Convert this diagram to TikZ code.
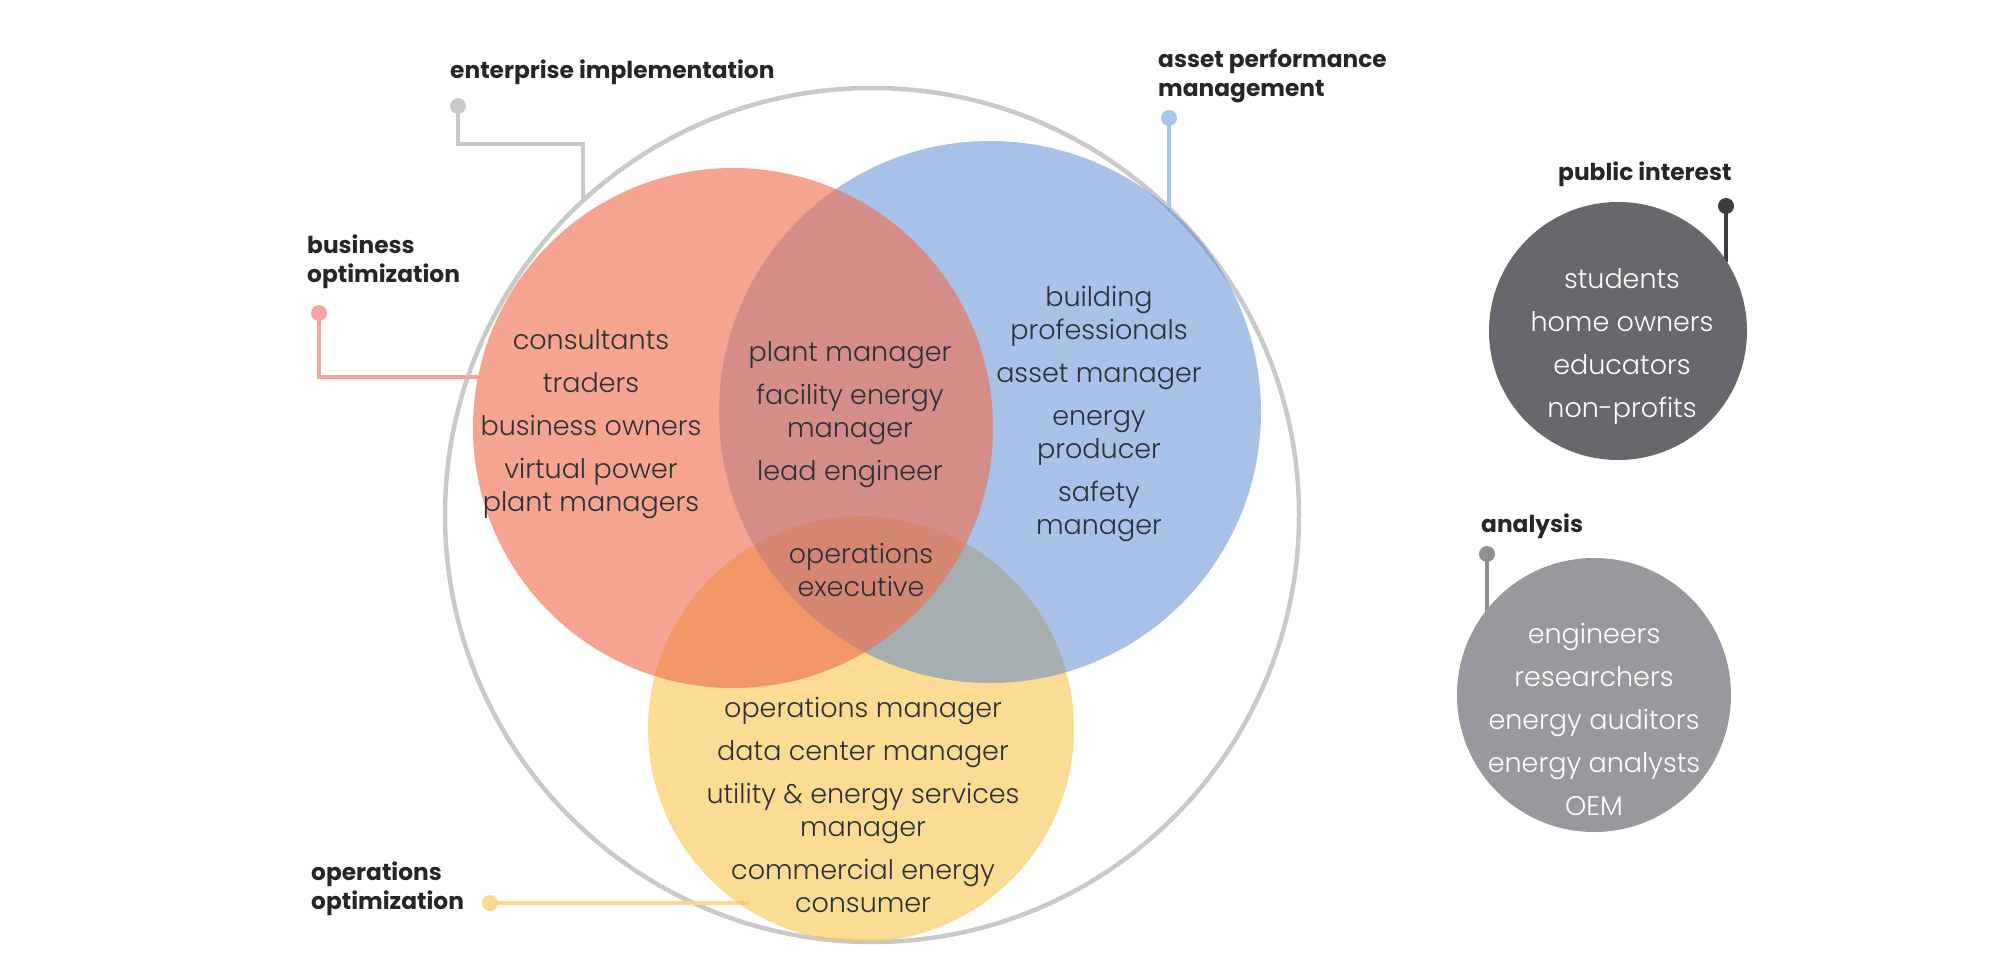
\documentclass[tikz,border=0pt]{standalone}
\usepackage{fontspec}
\IfFontExistsTF{Poppins Light}{\newfontfamily\bodyfont{Poppins Light}}{\newfontfamily\bodyfont{Poppins}}
\IfFontExistsTF{Poppins Bold}{\newfontfamily\labelfont{Poppins Bold}}{\newcommand\labelfont{\bodyfont\bfseries}}
\definecolor{ringgray}{HTML}{C9C9C9}
\definecolor{redbase}{HTML}{EF7050}
\definecolor{bluebase}{HTML}{467DCE}
\definecolor{yellowbase}{HTML}{FBC44E}
\definecolor{pubgray}{HTML}{66686C}
\definecolor{anagray}{HTML}{98999C}
\definecolor{txtdark}{HTML}{2D3035}
\definecolor{lbldark}{HTML}{262626}
\definecolor{bizline}{HTML}{F3A59F}
\definecolor{opsline}{HTML}{FCD98C}
\definecolor{apmline}{HTML}{A5C6E6}
\definecolor{publine}{HTML}{3A3D42}
\definecolor{analine}{HTML}{8D8F92}
\tikzset{
  setcircle/.style={circle, inner sep=0pt, draw=none},
  dot/.style={circle, inner sep=0pt, minimum size=16pt},
  conn/.style={line width=4pt},
  body/.style={align=center, text=txtdark, font=\bodyfont\fontsize{27}{33}\selectfont},
  wbody/.style={align=center, text=white, font=\bodyfont\fontsize{27}{33}\selectfont},
  lbl/.style={align=left, anchor=west, text=lbldark, inner sep=0pt, font=\labelfont\fontsize{23.3}{29.5}\selectfont},
}
\begin{document}
\begin{tikzpicture}[x=1pt, y=-1pt]
\useasboundingbox (0,0) rectangle (2000,971);
\fill[white] (0,0) rectangle (2000,971);
% outer ring
\node[setcircle, draw=ringgray, line width=4.5pt, minimum size=854pt] (ring) at (872,515) {};
% connectors and dots
\node[dot, fill=ringgray] (dEnt) at (458,106) {};
\coordinate (bEnt) at (583,144);
\coordinate (eEnt) at (583,200);
\draw[conn, ringgray] (dEnt.center) |- (bEnt) -- (eEnt);
\node[dot, fill=bizline] (dBiz) at (319,313) {};
\coordinate (bBiz) at (319,377);
\coordinate (eBiz) at (478,377);
\draw[conn, bizline] (dBiz.center) -- (bBiz) -- (eBiz);
\node[dot, fill=apmline] (dApm) at (1169,118) {};
\coordinate (eApm) at (1169,210);
\draw[conn, apmline] (dApm.center) -- (eApm);
\node[dot, fill=opsline] (dOps) at (490,903) {};
\coordinate (eOps) at (749,903);
\draw[conn, opsline] (dOps.center) -- (eOps);
\node[dot, fill=publine] (dPub) at (1726,206) {};
\coordinate (ePub) at (1726,262);
\draw[conn, publine] (dPub.center) -- (ePub);
\node[dot, fill=analine] (dAna) at (1487,554) {};
\coordinate (eAna) at (1487,612);
\draw[conn, analine] (dAna.center) -- (eAna);
% venn circles
\node[setcircle, fill=yellowbase, fill opacity=0.6, minimum size=426pt] (yel) at (861,729) {};
\node[setcircle, fill=bluebase, fill opacity=0.47, minimum size=542pt] (blu) at (990,412) {};
\node[setcircle, fill=redbase, fill opacity=0.63, minimum size=520pt] (red) at (733,428) {};
% side circles
\node[setcircle, fill=pubgray, minimum size=258pt] (pub) at (1618,331) {};
\node[setcircle, fill=anagray, minimum size=274pt] (ana) at (1594,695) {};
% texts
\node[body] (tRed) at (591,424) {consultants\\[10pt]traders\\[10pt]business owners\\[10pt]virtual power\\plant managers};
\node[body] (tRB) at (850,415) {plant manager\\[10pt]facility energy\\manager\\[10pt]lead engineer};
\node[body] (tAll) at (861,570) {operations\\executive};
\node[body] (tYel) at (863,805) {operations manager\\[10pt]data center manager\\[10pt]utility \& energy services\\manager\\[10pt]commercial energy\\consumer};
\node[body] (tBlu) at (1099,414) {building\\professionals\\[10pt]asset manager\\[10pt]energy\\producer\\[10pt]safety\\manager};
\node[wbody] (tPub) at (1622,346) {students\\[10pt]home owners\\[10pt]educators\\[10pt]non-profits};
\node[wbody] (tAna) at (1594,719) {engineers\\[10pt]researchers\\[10pt]energy auditors\\[10pt]energy analysts\\[10pt]OEM};
% labels
\node[lbl] (lEnt) at (450,72) {enterprise implementation};
\node[lbl] (lBiz) at (307,262) {business\\optimization};
\node[lbl] (lApm) at (1158,76) {asset performance\\management};
\node[lbl] (lPub) at (1558,174) {public interest};
\node[lbl] (lAna) at (1481,526) {analysis};
\node[lbl] (lOps) at (311,889) {operations\\optimization};
\end{tikzpicture}
\end{document}
